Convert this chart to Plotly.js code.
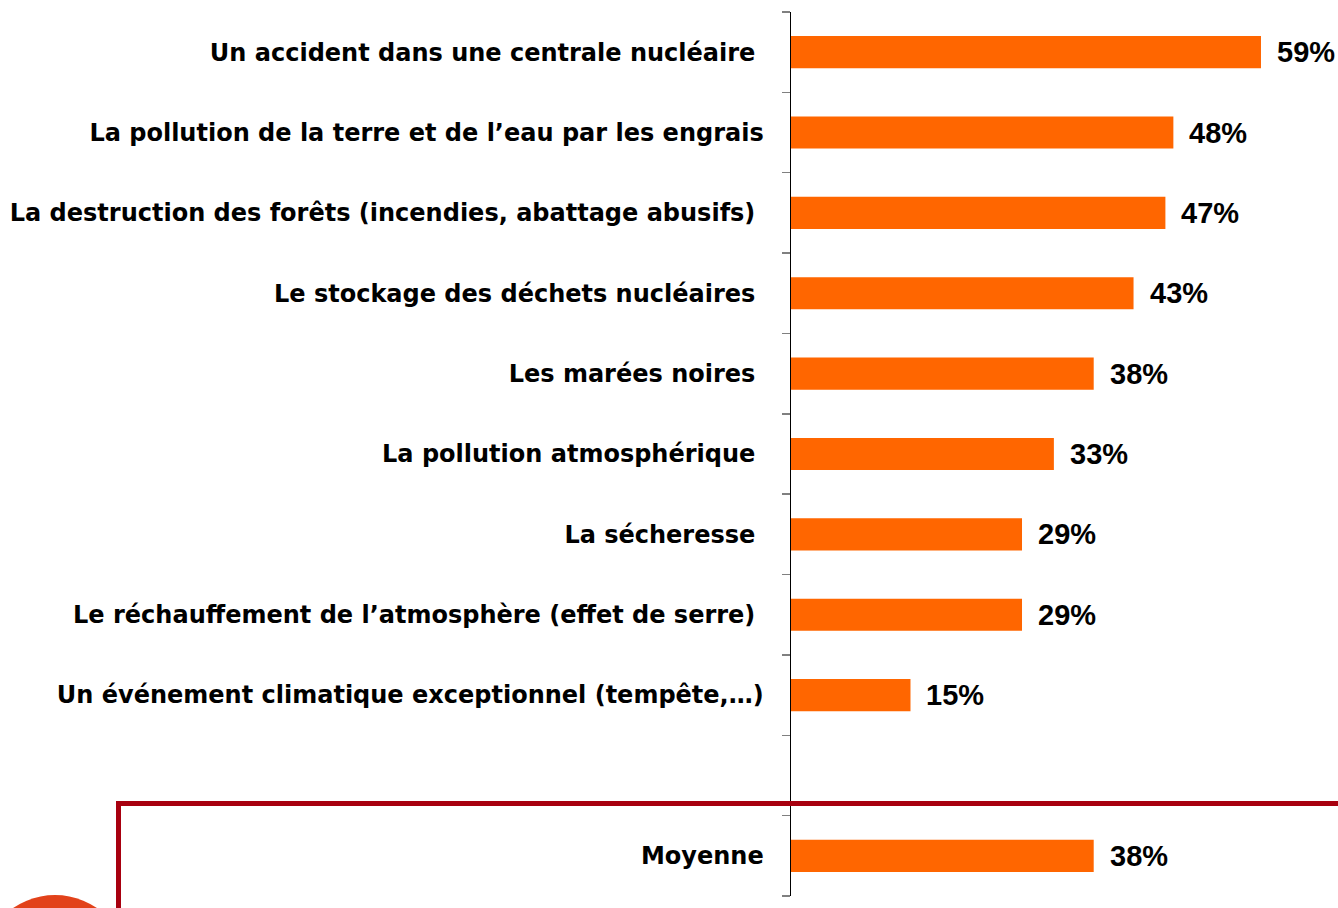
<!DOCTYPE html>
<html><head><meta charset="utf-8">
<script src="https://cdn.plot.ly/plotly-3.0.1.min.js"></script>
<style>html,body{margin:0;padding:0;background:#fff}#c{width:1338px;height:908px}</style>
</head><body><div id="c"></div>
<script>
const categories = [
  "Un accident dans une centrale nucléaire\u00a0",
  "La pollution de la terre et de l\u2019eau par les engrais",
  "La destruction des forêts (incendies, abattage abusifs)\u00a0",
  "Le stockage des déchets nucléaires\u00a0",
  "Les marées noires\u00a0",
  "La pollution atmosphérique\u00a0",
  "La sécheresse\u00a0",
  "Le réchauffement de l\u2019atmosphère (effet de serre)\u00a0",
  "Un événement climatique exceptionnel (tempête,\u2026)",
  "",
  "Moyenne"
];
const values = [59, 48, 47, 43, 38, 33, 29, 29, 15, null, 38];
const valueLabels = ["59%", "48%", "47%", "43%", "38%", "33%", "29%", "29%", "15%", "", "38%"];

const W = 1338, H = 908;
const pos = categories.map((c, i) => i);
const px = x => x / W, py = y => 1 - y / H;

const annotations = [];
values.forEach((v, i) => {
  if (v === null) return;
  annotations.push({
    x: v, y: pos[i], xref: 'x', yref: 'y', text: valueLabels[i],
    xanchor: 'left', yanchor: 'middle', showarrow: false, xshift: 14,
    font: {family: 'Liberation Sans, Arial, sans-serif', size: 29, color: '#000', weight: 'bold'}
  });
});

const trace = {
  type: 'bar', orientation: 'h', x: values, y: pos,
  marker: {color: '#FF6600'}, width: 0.4, hoverinfo: 'none'
};

const layout = {
  width: W, height: H, margin: {l: 0, r: 0, t: 0, b: 0},
  paper_bgcolor: '#fff', plot_bgcolor: 'rgba(0,0,0,0)', showlegend: false,
  xaxis: {domain: [791 / W, 1], range: [0, 547 / 7.966], visible: false, fixedrange: true},
  yaxis: {
    domain: [py(896), py(12)], range: [10.5, -0.5],
    tickmode: 'array', tickvals: pos, ticktext: categories,
    ticks: '', showgrid: false, zeroline: false,
    showline: true, linecolor: '#000', linewidth: 1.5,
    ticklabelstandoff: 21,
    tickfont: {family: 'DejaVu Sans, sans-serif', size: 24, color: '#000', weight: 'bold'},
    minor: {tickmode: 'linear', tick0: -0.5, dtick: 1, ticks: 'outside', ticklen: 8, tickcolor: '#808080', tickwidth: 1.5, showgrid: false}
  },
  annotations: annotations,
  shapes: [
    {type: 'circle', xref: 'paper', yref: 'paper', x0: px(55 - 74), x1: px(55 + 74), y0: py(969 + 74), y1: py(969 - 74),
     fillcolor: '#E2421A', line: {width: 0}, layer: 'above'},
    {type: 'path', xref: 'paper', yref: 'paper',
     path: `M ${px(118.5)} ${py(915)} L ${px(118.5)} ${py(803.5)} L ${px(1345)} ${py(803.5)}`,
     line: {color: '#A8000F', width: 5}, layer: 'above'}
  ]
};

Plotly.newPlot('c', [trace], layout, {staticPlot: true, displayModeBar: false});
</script>
</body></html>
